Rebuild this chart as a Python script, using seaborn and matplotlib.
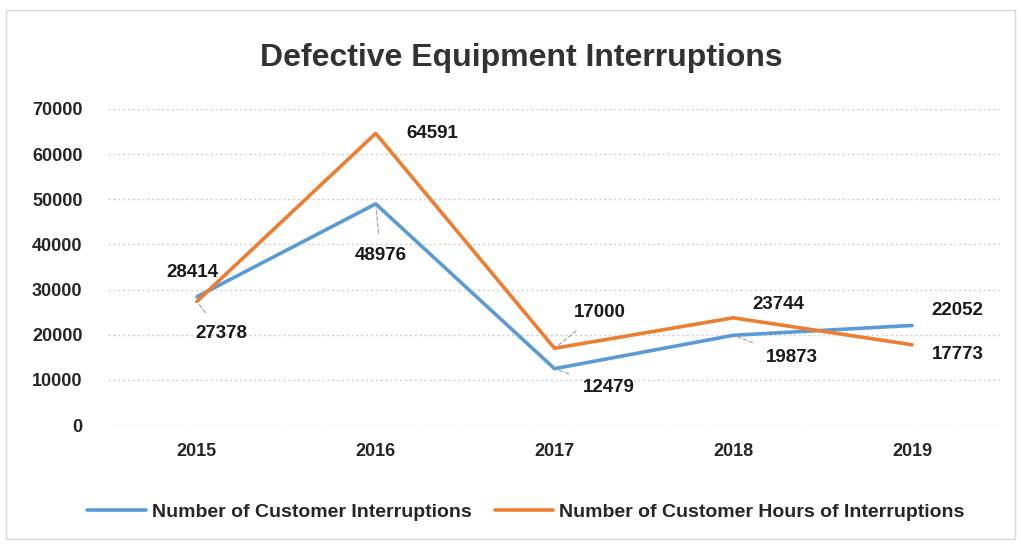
import matplotlib
matplotlib.use("Agg")
import matplotlib.pyplot as plt
import matplotlib.patches as mpatches
import seaborn as sns
import pandas as pd

years = [2015, 2016, 2017, 2018, 2019]
customer_interruptions = [28414, 48976, 12479, 19873, 22052]
customer_hours = [27378, 64591, 17000, 23744, 17773]
series_names = ["Number of Customer Interruptions",
                "Number of Customer Hours of Interruptions"]
y_ticks = [0, 10000, 20000, 30000, 40000, 50000, 60000, 70000]
title = "Defective Equipment Interruptions"

colors = {series_names[0]: "#5B9BD5", series_names[1]: "#ED7D31"}

df = pd.DataFrame({
    "Year": years * 2,
    "Value": customer_interruptions + customer_hours,
    "Series": [series_names[0]] * len(years) + [series_names[1]] * len(years),
})

sns.set_theme(style="white")
font = ["Liberation Sans", "DejaVu Sans"]
plt.rcParams["font.family"] = font

fig = plt.figure(figsize=(10.21, 5.46), dpi=100)
ax = fig.add_axes([0.1053, 0.2216, 0.8756, 0.5788])

sns.lineplot(data=df, x="Year", y="Value", hue="Series", palette=colors,
             linewidth=2.6, ax=ax, legend=False, sort=False)

ax.set_xlim(2014.5, 2019.5)
ax.set_ylim(0, 70000)
ax.set_xticks(years)
ax.set_xticklabels([str(y) for y in years])
ax.set_yticks(y_ticks)
ax.set_yticklabels([str(t) for t in y_ticks])
ax.set_xlabel("")
ax.set_ylabel("")
ax.grid(axis="y", color="#CFCFCF", linestyle=(0, (1.5, 2)), linewidth=1.0)
ax.set_axisbelow(True)
for s in ax.spines.values():
    s.set_visible(False)
ax.tick_params(axis="both", length=0, labelsize=13, colors="#262626")
ax.tick_params(axis="x", pad=13)
ax.tick_params(axis="y", pad=18)
for lbl in ax.get_xticklabels() + ax.get_yticklabels():
    lbl.set_fontweight("bold")

fig.text(0.511, 0.893, title, ha="center", va="center", fontsize=23,
         fontweight="bold", color="#333333")

# data labels: (offset x, offset y) in pixels, and whether a leader line is drawn
blue_offsets = [(-5, 24, True), (5, -52, True), (54, -19, True), (59, -22, True), (45, 15, False)]
orange_offsets = [(24, -32, True), (57, 0, False), (45, 36, True), (45, 13, False), (46, -10, False)]

def label_series(values, offsets):
    for x, v, (dx, dy, leader) in zip(years, values, offsets):
        kw = {}
        if leader:
            kw["arrowprops"] = dict(arrowstyle="-", color="#A6A6A6", lw=0.9,
                                    linestyle=(0, (3, 2)), shrinkA=8, shrinkB=3)
        ax.annotate(str(v), xy=(x, v), xytext=(dx, dy), textcoords="offset pixels",
                    ha="center", va="center", fontsize=13.5, fontweight="bold",
                    color="#1a1a1a", **kw)

label_series(customer_interruptions, blue_offsets)
label_series(customer_hours, orange_offsets)

handles = [plt.Line2D([], [], color=colors[n], lw=2.6) for n in series_names]
fig.legend(handles, series_names, loc="center", bbox_to_anchor=(0.515, 0.062),
           ncol=2, frameon=False, handlelength=3.0,
           columnspacing=1.2, handletextpad=0.3,
           prop={"weight": "bold", "size": 14, "family": font})

# chart area border
fig.patches.append(mpatches.Rectangle((0.006, 0.012), 0.988, 0.97,
                                      transform=fig.transFigure, fill=False,
                                      edgecolor="#D9D9D9", lw=1.0))

fig.savefig("out.png", dpi=100)
